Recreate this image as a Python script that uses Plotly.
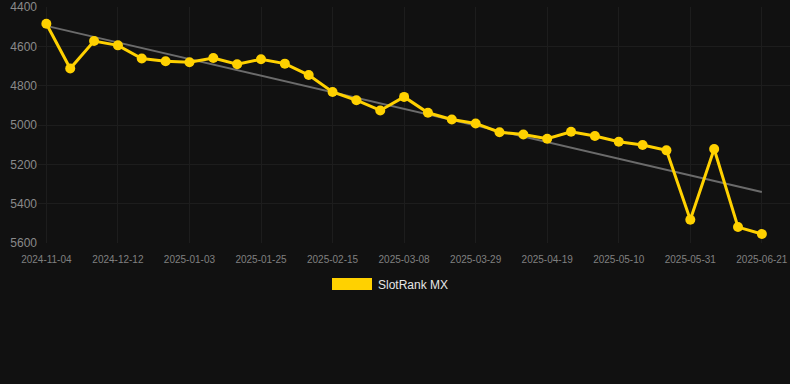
import numpy as np
import plotly.graph_objects as go

dates = [
    "2024-11-04", "2024-11-22", "2024-11-29", "2024-12-12", "2024-12-20", "2024-12-27",
    "2025-01-03", "2025-01-11", "2025-01-18", "2025-01-25", "2025-02-01", "2025-02-08",
    "2025-02-15", "2025-02-22", "2025-03-01", "2025-03-08", "2025-03-15", "2025-03-22",
    "2025-03-29", "2025-04-05", "2025-04-12", "2025-04-19", "2025-04-26", "2025-05-03",
    "2025-05-10", "2025-05-17", "2025-05-24", "2025-05-31", "2025-06-07", "2025-06-14",
    "2025-06-21",
]
ranks = [
    4485, 4713, 4573, 4595, 4662, 4676, 4681, 4659, 4691, 4666, 4688, 4746,
    4832, 4874, 4926, 4857, 4938, 4972, 4992, 5037, 5048, 5070, 5034, 5056,
    5085, 5102, 5129, 5482, 5122, 5519, 5554,
]
y_ticks = [4400, 4600, 4800, 5000, 5200, 5400, 5600]
series_name = "SlotRank MX"

idx = np.arange(len(ranks))
slope, intercept = np.polyfit(idx, ranks, 1)
trend = (slope * idx + intercept).tolist()

GOLD = "#FFD100"
BG = "#111111"
GRID = "#1d1d1d"

fig = go.Figure()
fig.add_trace(go.Scatter(
    x=[dates[0], dates[-1]], y=[trend[0], trend[-1]], mode="lines",
    line=dict(color="#6b6b6b", width=2), showlegend=False, hoverinfo="skip",
))
fig.add_trace(go.Scatter(
    x=dates, y=ranks, mode="lines+markers", name=series_name,
    line=dict(color=GOLD, width=3),
    marker=dict(color=GOLD, size=10),
    showlegend=False,
))

L, R, T, B = 38, 0, 7, 141
W, H = 790, 384
pw, ph = W - L - R, H - T - B

def px_x(p):
    return (p - L) / pw

def px_y(p):
    return (H - B - p) / ph

# manual legend (rectangle swatch + text)
fig.add_shape(type="rect", xref="paper", yref="paper",
              x0=px_x(332), x1=px_x(372), y0=px_y(290), y1=px_y(278),
              fillcolor=GOLD, line=dict(width=0))
fig.add_annotation(xref="paper", yref="paper", x=px_x(376), y=px_y(284.5),
                   text=series_name, showarrow=False, xanchor="left", yanchor="middle",
                   font=dict(family="Liberation Sans, Arial, sans-serif", size=12, color="#e6e6e6"))

fig.update_layout(
    width=W, height=H,
    margin=dict(l=L, r=R, t=T, b=B, pad=0),
    paper_bgcolor=BG, plot_bgcolor=BG,
    font=dict(family="Liberation Sans, Arial, sans-serif"),
    showlegend=False,
)
fig.update_xaxes(
    type="category", categoryorder="array", categoryarray=dates,
    tickvals=dates[::3], ticktext=dates[::3],
    range=[-0.35, 31.18],
    showgrid=True, gridcolor=GRID, gridwidth=1,
    zeroline=False, showline=False, ticks="",
    ticklabelstandoff=9,
    tickfont=dict(size=10, color="#808080"),
)
fig.update_yaxes(
    range=[y_ticks[-1], y_ticks[0]],
    tickvals=y_ticks,
    showgrid=True, gridcolor=GRID, gridwidth=1,
    zeroline=False, showline=False, ticks="",
    tickfont=dict(size=12, color="#8a8a8a"),
)

fig.write_html(
    "out.html",
    config={"displayModeBar": False},
    post_script="document.body.style.margin='0';document.body.style.background='#111111';",
)
